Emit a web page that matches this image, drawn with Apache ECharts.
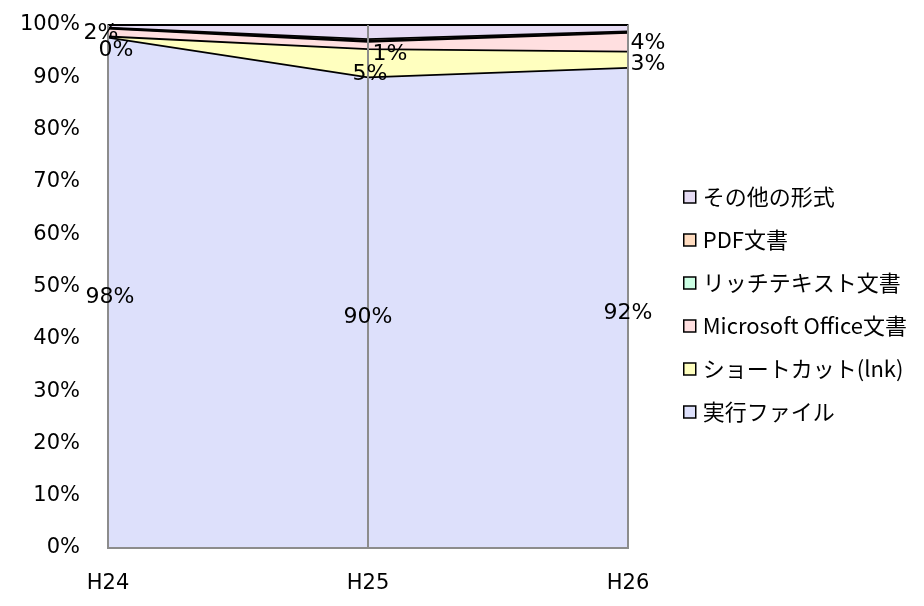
<!DOCTYPE html>
<html>
<head>
<meta charset="utf-8">
<script src="https://cdn.jsdelivr.net/npm/echarts@6/dist/echarts.min.js"></script>
<style>
  html, body { margin: 0; padding: 0; background: #fff; }
  #chart { width: 924px; height: 606px; }
</style>
</head>
<body>
<div id="chart"></div>
<script>
// Fiscal years
var categories = ['H24', 'H25', 'H26'];

// Share of each attachment type (percent, each year sums to 100)
var exeFiles      = [97.6, 90.0, 91.8];
var shortcutFiles = [0.2, 5.4, 3.1];
var officeFiles   = [1.5, 1.4, 3.6];
var rtfFiles      = [0.1, 0.2, 0.1];
var pdfFiles      = [0.1, 0.3, 0.2];
var otherFiles    = [0.5, 2.7, 1.2];

var seriesNames = ['実行ファイル', 'ショートカット(lnk)', 'Microsoft Office文書', 'リッチテキスト文書', 'PDF文書', 'その他の形式'];
var yTickLabels = ['0%', '10%', '20%', '30%', '40%', '50%', '60%', '70%', '80%', '90%', '100%'];

var stackData = [exeFiles, shortcutFiles, officeFiles, rtfFiles, pdfFiles, otherFiles];
var fills = ['#dde0fb', '#ffffbf', '#ffdfe0', '#ccffe4', '#ffdcc0', '#e6dcf4'];

var axisFont = 'DejaVu Sans';

var series = stackData.map(function (vals, i) {
  return {
    name: seriesNames[i],
    type: 'line',
    stack: 'share',
    symbol: 'none',
    data: vals,
    lineStyle: { color: '#000', width: 1.8 },
    itemStyle: { color: fills[i] },
    areaStyle: { color: fills[i], opacity: 1 },
    z: 2
  };
});

// Value labels sit at the middle of each labelled band
function bandCenters(idx) {
  return categories.map(function (c, j) {
    var base = 0;
    for (var k = 0; k < idx; k++) base += stackData[k][j];
    return base + stackData[idx][j] / 2;
  });
}
var labelOffsets = [
  [[2, 5], [0, 5], [0, 5]],
  [[8, 13], [2, 11], [20, 5]],
  [[-7, 1], [22, 9], [20, 1]]
];
[0, 1, 2].forEach(function (idx) {
  var centers = bandCenters(idx);
  series.push({
    name: 'label-' + idx,
    type: 'scatter',
    silent: true,
    symbolSize: 0,
    itemStyle: { color: '#000', opacity: 1 },
    z: 5,
    data: centers.map(function (c, j) {
      return {
        value: [j, c],
        raw: stackData[idx][j],
        label: { offset: labelOffsets[idx][j] }
      };
    }),
    label: {
      show: true,
      position: 'inside',
      color: '#000',
      opacity: 1,
      textBorderWidth: 0,
      fontFamily: axisFont,
      fontSize: 22,
      formatter: function (p) { return Math.round(p.data.raw) + '%'; }
    }
  });
});

var chart = echarts.init(document.getElementById('chart'));
chart.setOption({
  animation: false,
  backgroundColor: '#fff',
  grid: {
    left: 108, right: 296, top: 25, bottom: 58,
    show: true, borderColor: '#8c8c8c', borderWidth: 2, backgroundColor: 'transparent'
  },
  legend: {
    orient: 'vertical',
    left: 678,
    top: 179,
    itemGap: 17,
    itemWidth: 12,
    itemHeight: 12,
    icon: 'rect',
    data: seriesNames.slice().reverse(),
    itemStyle: { borderColor: '#000', borderWidth: 1.5 },
    textStyle: { fontFamily: 'Noto Sans CJK JP', fontSize: 22, lineHeight: 26, color: '#000', padding: [0, 0, 0, 2] }
  },
  xAxis: {
    type: 'category',
    data: categories,
    boundaryGap: false,
    axisLine: { lineStyle: { color: '#8c8c8c', width: 2 } },
    axisTick: { show: false },
    axisLabel: { color: '#000', fontFamily: axisFont, fontSize: 21, margin: 25 },
    splitLine: { show: true, lineStyle: { color: '#8c8c8c', width: 2 } },
    z: 3
  },
  yAxis: {
    type: 'value',
    min: 0,
    max: 100,
    interval: 10,
    axisLine: { show: true, lineStyle: { color: '#8c8c8c', width: 2 } },
    axisTick: { show: false },
    splitLine: { show: false },
    axisLabel: {
      color: '#000', fontFamily: axisFont, fontSize: 21, margin: 28,
      padding: [8, 0, 0, 0],
      formatter: function (v) { return yTickLabels[Math.round(v / 10)]; }
    }
  },
  series: series
});
</script>
</body>
</html>
